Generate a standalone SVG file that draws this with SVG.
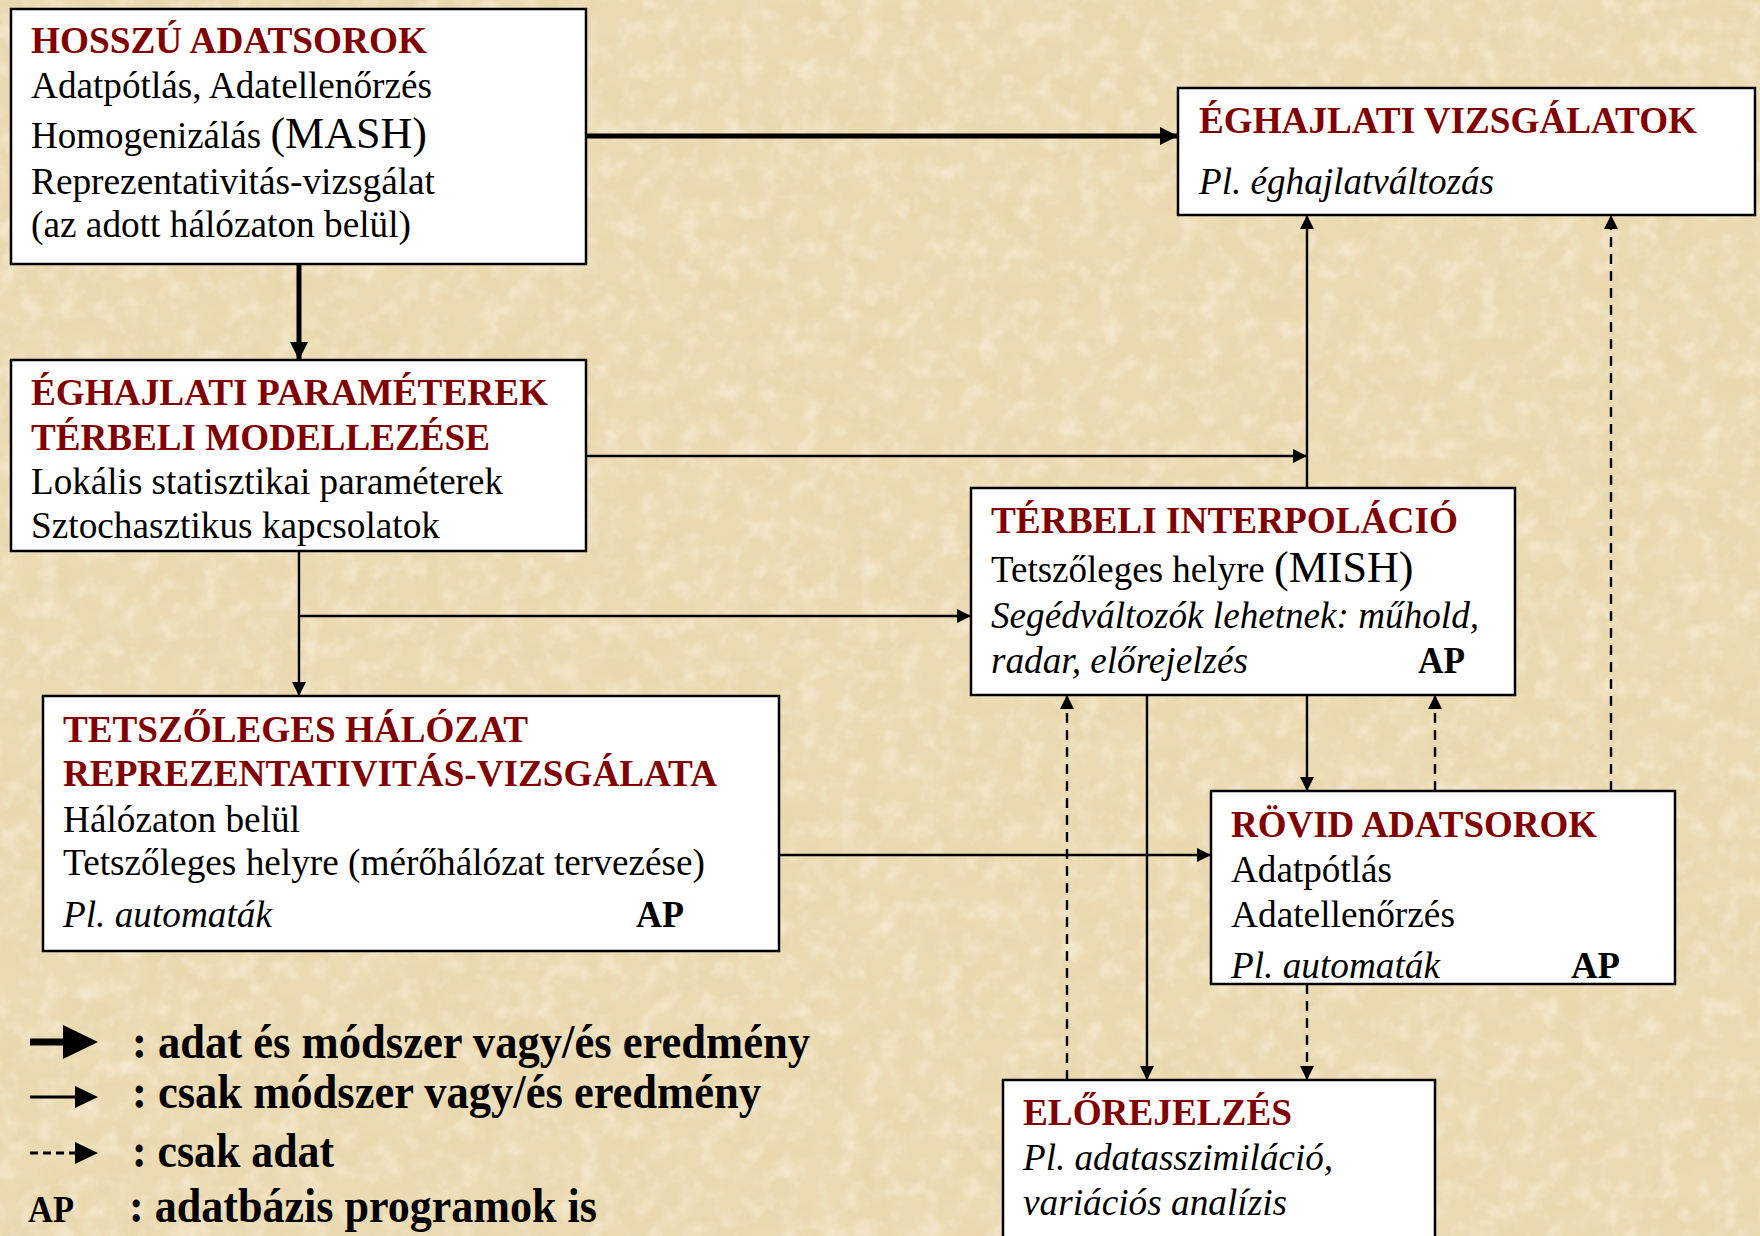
<svg xmlns="http://www.w3.org/2000/svg" width="1760" height="1236" viewBox="0 0 1760 1236">
<style>
.box{fill:#fff;stroke:#000;stroke-width:2.5}
text{font-family:"Liberation Serif","Times New Roman",serif;font-size:37px;fill:#000}
.t{font-weight:bold;fill:#800000}
.i{font-style:italic}
.b{font-weight:bold}
.lg{font-weight:bold;font-size:48px}
.c{fill:none;stroke:#000;stroke-width:2.4}
.thick{fill:none;stroke:#000;stroke-width:5}
.d{stroke-dasharray:10 7}
</style>
<defs>
<marker id="ah" markerUnits="userSpaceOnUse" markerWidth="16" markerHeight="14" refX="14" refY="7" orient="auto"><path d="M0,0 L14,7 L0,14 Z" fill="#000"/></marker>
<marker id="ahT" markerUnits="userSpaceOnUse" markerWidth="20" markerHeight="20" refX="18" refY="10" orient="auto"><path d="M0,1 L18,10 L0,19 Z" fill="#000"/></marker>
<filter id="paper" x="0" y="0" width="100%" height="100%">
<feTurbulence type="fractalNoise" baseFrequency="0.02 0.03" numOctaves="5" seed="7"/>
<feColorMatrix type="matrix" values="0 0 0 0 0.80  0 0 0 0 0.64  0 0 0 0 0.38  1.0 0 0 0 -0.45"/>
</filter>
<filter id="paper2" x="0" y="0" width="100%" height="100%">
<feTurbulence type="fractalNoise" baseFrequency="0.05" numOctaves="3" seed="2"/>
<feColorMatrix type="matrix" values="0 0 0 0 1  0 0 0 0 0.97  0 0 0 0 0.88  1.0 0 0 0 -0.45"/>
</filter>
</defs>
<rect width="1760" height="1236" fill="#EBDAB2"/>
<rect width="1760" height="1236" filter="url(#paper)"/>
<rect width="1760" height="1236" filter="url(#paper2)"/>

<g id="connectors">
<path class="thick" d="M586,136 H1178" marker-end="url(#ahT)"/>
<path class="thick" d="M299,264 V360" marker-end="url(#ahT)"/>
<path class="c" d="M586,456 H1307" marker-end="url(#ah)"/>
<path class="c" d="M1307,488 V215" marker-end="url(#ah)"/>
<path class="c" d="M299,551 V696" marker-end="url(#ah)"/>
<path class="c" d="M299,616 H971" marker-end="url(#ah)"/>
<path class="c" d="M779,855 H1211" marker-end="url(#ah)"/>
<path class="c" d="M1307,695 V791" marker-end="url(#ah)"/>
<path class="c d" d="M1435,791 V695" marker-end="url(#ah)"/>
<path class="c d" d="M1611,791 V215" marker-end="url(#ah)"/>
<path class="c" d="M1147,695 V1080" marker-end="url(#ah)"/>
<path class="c d" d="M1067,1080 V695" marker-end="url(#ah)"/>
<path class="c d" d="M1307,984 V1080" marker-end="url(#ah)"/>
</g>

<g id="hosszu">
<rect class="box" x="11" y="9" width="575" height="255"/>
<text class="t" x="31" y="53" textLength="396" lengthAdjust="spacingAndGlyphs">HOSSZÚ ADATSOROK</text>
<text x="31" y="98" textLength="401" lengthAdjust="spacingAndGlyphs">Adatpótlás, Adatellenőrzés</text>
<text x="31" y="148">Homogenizálás <tspan font-size="44">(MASH)</tspan></text>
<text x="31" y="194" textLength="404" lengthAdjust="spacingAndGlyphs">Reprezentativitás-vizsgálat</text>
<text x="31" y="237" textLength="380" lengthAdjust="spacingAndGlyphs">(az adott hálózaton belül)</text>
</g>

<g id="eghajlati-vizsgalatok">
<rect class="box" x="1178" y="88" width="577" height="127"/>
<text class="t" x="1199" y="133" textLength="498" lengthAdjust="spacingAndGlyphs">ÉGHAJLATI VIZSGÁLATOK</text>
<text class="i" x="1199" y="194" textLength="295" lengthAdjust="spacingAndGlyphs">Pl. éghajlatváltozás</text>
</g>

<g id="parameterek">
<rect class="box" x="11" y="360" width="575" height="191"/>
<text class="t" x="31" y="405" textLength="517" lengthAdjust="spacingAndGlyphs">ÉGHAJLATI PARAMÉTEREK</text>
<text class="t" x="31" y="450" textLength="459" lengthAdjust="spacingAndGlyphs">TÉRBELI MODELLEZÉSE</text>
<text x="31" y="494" textLength="472" lengthAdjust="spacingAndGlyphs">Lokális statisztikai paraméterek</text>
<text x="31" y="538" textLength="409" lengthAdjust="spacingAndGlyphs">Sztochasztikus kapcsolatok</text>
</g>

<g id="interpolacio">
<rect class="box" x="971" y="488" width="544" height="207"/>
<text class="t" x="991" y="533" textLength="467" lengthAdjust="spacingAndGlyphs">TÉRBELI INTERPOLÁCIÓ</text>
<text x="991" y="582">Tetszőleges helyre <tspan font-size="44">(MISH)</tspan></text>
<text class="i" x="991" y="628" textLength="488" lengthAdjust="spacingAndGlyphs">Segédváltozók lehetnek: műhold,</text>
<text class="i" x="991" y="673" textLength="257" lengthAdjust="spacingAndGlyphs">radar, előrejelzés</text>
<text class="b" x="1418" y="673" textLength="47" lengthAdjust="spacingAndGlyphs">AP</text>
</g>

<g id="halozat">
<rect class="box" x="43" y="696" width="736" height="255"/>
<text class="t" x="63" y="742" textLength="465" lengthAdjust="spacingAndGlyphs">TETSZŐLEGES HÁLÓZAT</text>
<text class="t" x="63" y="786" textLength="654" lengthAdjust="spacingAndGlyphs">REPREZENTATIVITÁS-VIZSGÁLATA</text>
<text x="63" y="832" textLength="237" lengthAdjust="spacingAndGlyphs">Hálózaton belül</text>
<text x="63" y="875" textLength="642" lengthAdjust="spacingAndGlyphs">Tetszőleges helyre (mérőhálózat tervezése)</text>
<text class="i" x="63" y="927" textLength="209" lengthAdjust="spacingAndGlyphs">Pl. automaták</text>
<text class="b" x="636" y="927" textLength="48" lengthAdjust="spacingAndGlyphs">AP</text>
</g>

<g id="rovid">
<rect class="box" x="1211" y="791" width="464" height="193"/>
<text class="t" x="1231" y="837" textLength="366" lengthAdjust="spacingAndGlyphs">RÖVID ADATSOROK</text>
<text x="1231" y="882" textLength="161" lengthAdjust="spacingAndGlyphs">Adatpótlás</text>
<text x="1231" y="927" textLength="224" lengthAdjust="spacingAndGlyphs">Adatellenőrzés</text>
<text class="i" x="1231" y="978" textLength="209" lengthAdjust="spacingAndGlyphs">Pl. automaták</text>
<text class="b" x="1571" y="978" textLength="49" lengthAdjust="spacingAndGlyphs">AP</text>
</g>

<g id="elorejelzes">
<rect class="box" x="1003" y="1080" width="432" height="180"/>
<text class="t" x="1023" y="1125" textLength="269" lengthAdjust="spacingAndGlyphs">ELŐREJELZÉS</text>
<text class="i" x="1023" y="1170" textLength="310" lengthAdjust="spacingAndGlyphs">Pl. adatasszimiláció,</text>
<text class="i" x="1023" y="1215" textLength="264" lengthAdjust="spacingAndGlyphs">variációs analízis</text>
</g>

<g id="legend">
<path d="M30,1042 H66" stroke="#000" stroke-width="7"/>
<path d="M63,1025 L98,1042 L63,1059 Z" fill="#000"/>
<path d="M30,1097 H77" stroke="#000" stroke-width="3"/>
<path d="M75,1086 L98,1097 L75,1108 Z" fill="#000"/>
<path d="M30,1153 H77" stroke="#000" stroke-width="3" stroke-dasharray="8 5"/>
<path d="M75,1142 L98,1153 L75,1164 Z" fill="#000"/>
<text class="lg" x="132" y="1058" textLength="678" lengthAdjust="spacingAndGlyphs">: adat és módszer vagy/és eredmény</text>
<text class="lg" x="132" y="1108" textLength="629" lengthAdjust="spacingAndGlyphs">: csak módszer vagy/és eredmény</text>
<text class="lg" x="132" y="1167" textLength="202" lengthAdjust="spacingAndGlyphs">: csak adat</text>
<text class="b" x="28" y="1222" font-size="37" textLength="46" lengthAdjust="spacingAndGlyphs">AP</text>
<text class="lg" x="129" y="1222" textLength="468" lengthAdjust="spacingAndGlyphs">: adatbázis programok is</text>
</g>
</svg>
